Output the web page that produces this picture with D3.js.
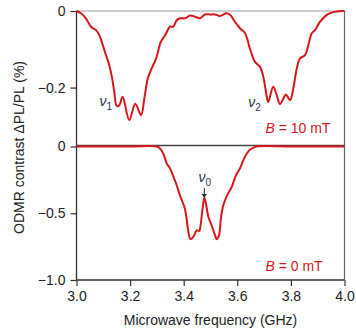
<!DOCTYPE html>
<html>
<head>
<meta charset="utf-8">
<script src="https://cdn.jsdelivr.net/npm/d3@7"></script>
<style>
  body { margin: 0; background: #fff; }
  svg { display: block; font-family: "Liberation Sans", Arial, sans-serif; }
  .tick text { font-size: 14px; fill: #222; }
</style>
</head>
<body>
<div id="chart"></div>
<script>
// B = 10 mT trace (top panel)
const topFreq = [3.000, 3.017, 3.035, 3.054, 3.073, 3.085, 3.098, 3.110, 3.122, 3.132, 3.141, 3.150, 3.160,
    3.172, 3.197, 3.219, 3.241, 3.253, 3.266, 3.278, 3.297, 3.315, 3.331, 3.349, 3.361, 3.374, 3.386,
    3.405, 3.424, 3.442, 3.461, 3.479, 3.498, 3.517, 3.535, 3.560, 3.573, 3.591, 3.610, 3.629, 3.647,
    3.666, 3.685, 3.697, 3.707, 3.715, 3.734, 3.747, 3.759, 3.772, 3.781, 3.797, 3.809, 3.822, 3.834,
    3.853, 3.865, 3.878, 3.890, 3.909, 3.934, 3.958, 3.990, 4.000];
const topVal = [0, -0.006, -0.019, -0.041, -0.050, -0.063, -0.089, -0.115, -0.141, -0.172, -0.211, -0.248, -0.246,
    -0.224, -0.285, -0.242, -0.272, -0.229, -0.176, -0.154, -0.124, -0.080, -0.063, -0.041, -0.041, -0.024, -0.019,
    -0.019, -0.012, -0.015, -0.019, -0.009, -0.009, -0.009, -0.013, -0.006, -0.010, -0.028, -0.045, -0.058, -0.098,
    -0.133, -0.146, -0.172, -0.211, -0.238, -0.198, -0.220, -0.243, -0.229, -0.218, -0.233, -0.202, -0.150, -0.124,
    -0.115, -0.089, -0.058, -0.050, -0.028, -0.010, -0.003, 0, 0];

// B = 0 mT trace (bottom panel)
const botFreq = [3.000, 3.100, 3.200, 3.299, 3.312, 3.324, 3.337, 3.349, 3.361, 3.374, 3.386, 3.399, 3.405,
    3.411, 3.417, 3.425, 3.436, 3.449, 3.458, 3.463, 3.471, 3.477, 3.483, 3.492, 3.504, 3.517, 3.523,
    3.532, 3.538, 3.546, 3.554, 3.566, 3.579, 3.595, 3.610, 3.622, 3.635, 3.647, 3.660, 3.672, 3.800,
    3.900, 4.000];
const botVal = [0, 0, 0, 0, -0.015, -0.054, -0.129, -0.164, -0.224, -0.291, -0.366, -0.433, -0.470,
    -0.545, -0.634, -0.694, -0.677, -0.627, -0.634, -0.590, -0.455, -0.384, -0.428, -0.527, -0.590, -0.664, -0.694,
    -0.664, -0.552, -0.453, -0.403, -0.351, -0.304, -0.216, -0.164, -0.104, -0.054, -0.025, -0.010, 0, 0,
    0, 0];

const xTicks = [3.0, 3.2, 3.4, 3.6, 3.8, 4.0];
const topTicks = [0, -0.2];
const botTicks = [0, -0.5, -1.0];

const width = 356, height = 328;
const red = "#d9161c";

const svg = d3.select("#chart").append("svg")
    .attr("width", width)
    .attr("height", height);

const x = d3.scaleLinear().domain([3, 4]).range([76.5, 344.5]);
const yTop = d3.scaleLinear().domain([-0.35, 0]).range([145, 11]);
const yBot = d3.scaleLinear().domain([-1, 0]).range([280, 146.5]);

const fmt = d => d === 0 ? "0" : d3.format(".1f")(d);

// frame lines
svg.append("line").attr("x1", x(3)).attr("x2", x(4)).attr("y1", yTop(0)).attr("y2", yTop(0))
    .attr("stroke", "#999").attr("stroke-width", 1.2);
svg.append("line").attr("x1", x(4)).attr("x2", x(4)).attr("y1", yTop(0)).attr("y2", yBot(-1))
    .attr("stroke", "#666").attr("stroke-width", 1.2);
svg.append("line").attr("x1", x(3)).attr("x2", x(4)).attr("y1", 145.5).attr("y2", 145.5)
    .attr("stroke", "#444").attr("stroke-width", 1.4);

// axes
const gTop = svg.append("g").attr("transform", `translate(${x(3)},0)`)
    .call(d3.axisLeft(yTop).tickValues(topTicks).tickFormat(fmt).tickSize(6).tickPadding(5));
const gBot = svg.append("g").attr("transform", `translate(${x(3)},0)`)
    .call(d3.axisLeft(yBot).tickValues(botTicks).tickFormat(fmt).tickSize(6).tickPadding(5));
const gX = svg.append("g").attr("transform", `translate(0,${yBot(-1)})`)
    .call(d3.axisBottom(x).tickValues(xTicks).tickFormat(d3.format(".1f")).tickSize(6).tickPadding(5));

svg.selectAll(".domain").remove();
svg.selectAll(".tick line").attr("stroke", "#333").attr("stroke-width", 1.2);

svg.append("line").attr("x1", x(3)).attr("x2", x(3)).attr("y1", yTop(0)).attr("y2", yBot(-1))
    .attr("stroke", "#333").attr("stroke-width", 1.3);
svg.append("line").attr("x1", x(3)).attr("x2", x(4)).attr("y1", yBot(-1)).attr("y2", yBot(-1))
    .attr("stroke", "#333").attr("stroke-width", 1.3);

// traces
const lineTop = d3.line().x(i => x(topFreq[i])).y(i => yTop(topVal[i])).curve(d3.curveCatmullRom.alpha(0.5));
const lineBot = d3.line().x(i => x(botFreq[i])).y(i => yBot(botVal[i])).curve(d3.curveCatmullRom.alpha(0.5));

svg.append("path").attr("d", lineTop(d3.range(topFreq.length)))
    .attr("fill", "none").attr("stroke", red).attr("stroke-width", 2);
svg.append("path").attr("d", lineBot(d3.range(botFreq.length)))
    .attr("fill", "none").attr("stroke", red).attr("stroke-width", 2);

// annotations
function nu(px, py, sub) {
    const t = svg.append("text").attr("x", px).attr("y", py)
        .attr("fill", "#2a3550").style("font-size", "14px");
    t.append("tspan").attr("font-style", "italic").text("ν");
    t.append("tspan").attr("dy", 4).style("font-size", "10px").text(sub);
}
nu(x(3.086), yTop(-0.248), "1");
nu(x(3.641), yTop(-0.251), "2");
nu(x(3.455), yBot(-0.265), "0");

// arrow to v0
const ax = x(3.477);
svg.append("line").attr("x1", ax).attr("x2", ax).attr("y1", yBot(-0.31)).attr("y2", yBot(-0.37))
    .attr("stroke", "#222").attr("stroke-width", 1);
svg.append("path")
    .attr("d", `M${ax - 2.5},${yBot(-0.355)} L${ax + 2.5},${yBot(-0.355)} L${ax},${yBot(-0.385)} Z`)
    .attr("fill", "#222");

function bLabel(px, py, val) {
    const t = svg.append("text").attr("x", px).attr("y", py)
        .attr("fill", red).style("font-size", "14px");
    t.append("tspan").attr("font-style", "italic").text("B");
    t.append("tspan").text(" = " + val + " mT");
}
bLabel(x(3.705), yTop(-0.318), "10");
bLabel(x(3.705), yBot(-0.93), "0");

// axis titles
svg.append("text")
    .attr("x", (x(3) + x(4)) / 2).attr("y", 325)
    .attr("text-anchor", "middle").attr("fill", "#222").style("font-size", "14px")
    .text("Microwave frequency (GHz)");
svg.append("text")
    .attr("transform", `translate(24,${(yTop(0) + yBot(-1)) / 2 + 2}) rotate(-90)`)
    .attr("text-anchor", "middle").attr("fill", "#222").style("font-size", "14px")
    .text("ODMR contrast ΔPL/PL (%)");
</script>
</body>
</html>
